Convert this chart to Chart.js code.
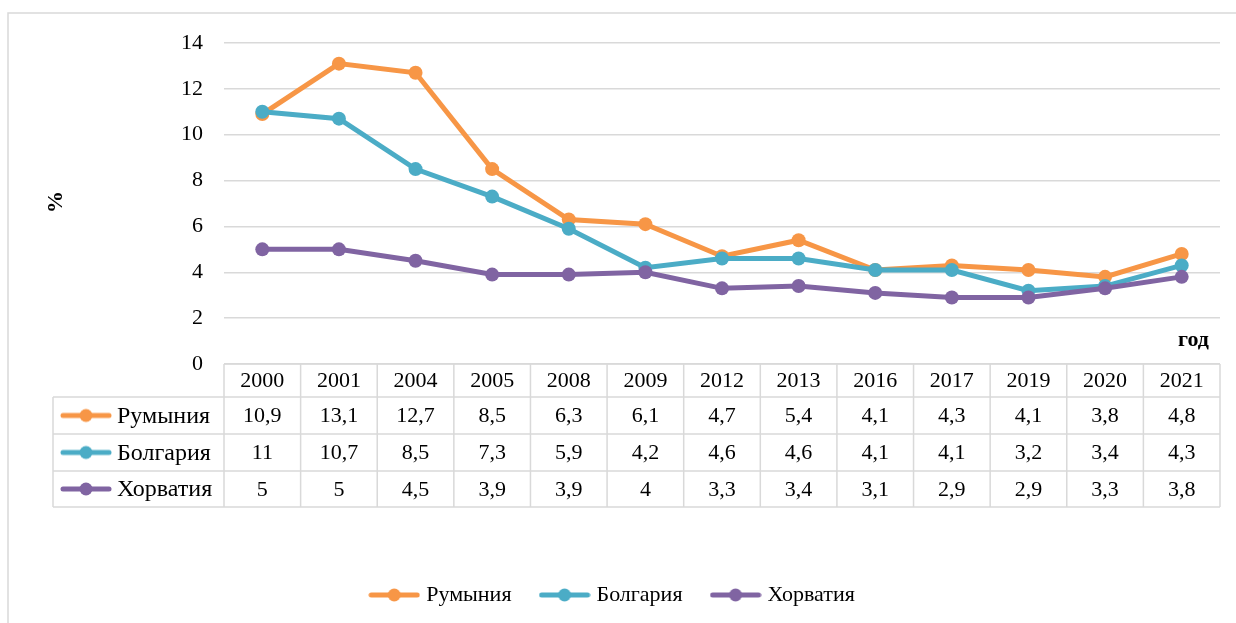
<!DOCTYPE html>
<html>
<head>
<meta charset="utf-8">
<script src="https://cdn.jsdelivr.net/npm/chart.js@4/dist/chart.umd.min.js"></script>
<style>
  html, body { margin: 0; padding: 0; background: #fff; }
  canvas { display: block; }
</style>
</head>
<body>
<canvas id="chart" width="1236" height="623"></canvas>
<script>
// данные
var years = ['2000', '2001', '2004', '2005', '2008', '2009', '2012', '2013', '2016', '2017', '2019', '2020', '2021'];
var romania = [10.9, 13.1, 12.7, 8.5, 6.3, 6.1, 4.7, 5.4, 4.1, 4.3, 4.1, 3.8, 4.8];
var bulgaria = [11, 10.7, 8.5, 7.3, 5.9, 4.2, 4.6, 4.6, 4.1, 4.1, 3.2, 3.4, 4.3];
var croatia = [5, 5, 4.5, 3.9, 3.9, 4, 3.3, 3.4, 3.1, 2.9, 2.9, 3.3, 3.8];
var yTicks = [0, 2, 4, 6, 8, 10, 12, 14];

var FONT = "'Liberation Serif', 'Times New Roman', serif";
var GRID = '#d9d9d9';

Chart.defaults.font.family = FONT;
Chart.defaults.font.size = 22;
Chart.defaults.color = '#000';

// значок легенды: линия с маркером
function makeSymbol(color) {
    var c = document.createElement('canvas');
    c.width = 52;
    c.height = 16;
    var g = c.getContext('2d');
    g.strokeStyle = color;
    g.lineWidth = 5;
    g.lineCap = 'round';
    g.beginPath();
    g.moveTo(3, 8);
    g.lineTo(49, 8);
    g.stroke();
    g.fillStyle = color;
    g.beginPath();
    g.arc(26, 8, 6.5, 0, Math.PI * 2);
    g.fill();
    return c;
}

function fmt(v) {
    return String(v).replace('.', ',');
}

var series = [
    { label: 'Румыния', data: romania, color: '#f79646' },
    { label: 'Болгария', data: bulgaria, color: '#4bacc6' },
    { label: 'Хорватия', data: croatia, color: '#8064a2' }
];
series.forEach(function (s) { s.symbol = makeSymbol(s.color); });

// таблица данных под осью
var tablePlugin = {
    id: 'dataTable',
    beforeDraw: function (chart) {
        var ctx = chart.ctx;
        ctx.save();
        ctx.fillStyle = '#fff';
        ctx.fillRect(0, 0, chart.width, chart.height);
        ctx.strokeStyle = GRID;
        ctx.lineWidth = 1.5;
        ctx.beginPath();
        ctx.moveTo(8, chart.height);
        ctx.lineTo(8, 13);
        ctx.lineTo(chart.width, 13);
        ctx.stroke();
        ctx.restore();
    },
    afterDraw: function (chart) {
        var ctx = chart.ctx;
        var area = chart.chartArea;
        var x = chart.scales.x;
        var colW = area.width / years.length;
        var top = area.bottom;
        var rows = [top, top + 33, top + 70, top + 107, top + 143];
        var labelLeft = 53;

        ctx.save();
        ctx.strokeStyle = GRID;
        ctx.lineWidth = 1.5;
        ctx.beginPath();
        ctx.moveTo(area.left, rows[0]);
        ctx.lineTo(area.right, rows[0]);
        for (var r = 1; r < rows.length; r++) {
            ctx.moveTo(labelLeft, rows[r]);
            ctx.lineTo(area.right, rows[r]);
        }
        ctx.moveTo(labelLeft, rows[1]);
        ctx.lineTo(labelLeft, rows[4]);
        for (var i = 0; i <= years.length; i++) {
            var bx = area.left + i * colW;
            ctx.moveTo(bx, rows[0]);
            ctx.lineTo(bx, rows[4]);
        }
        ctx.stroke();

        ctx.fillStyle = '#000';
        ctx.textBaseline = 'middle';
        years.forEach(function (y, i) {
            ctx.font = '22px ' + FONT;
            ctx.textAlign = 'center';
            ctx.fillText(y, x.getPixelForValue(i), (rows[0] + rows[1]) / 2 + 1);
        });
        series.forEach(function (s, k) {
            var cy = (rows[k + 1] + rows[k + 2]) / 2 + 1;
            ctx.font = '22px ' + FONT;
            ctx.textAlign = 'center';
            s.data.forEach(function (v, i) {
                ctx.fillText(fmt(v), x.getPixelForValue(i), cy);
            });
            ctx.drawImage(s.symbol, 60, cy - 9);
            ctx.font = '24px ' + FONT;
            ctx.textAlign = 'left';
            ctx.fillText(s.label, 117, cy);
        });

        // подписи осей
        ctx.font = 'bold 22px ' + FONT;
        ctx.textAlign = 'right';
        ctx.fillText('год', area.right - 11, 340);
        ctx.translate(56, 202);
        ctx.rotate(-Math.PI / 2);
        ctx.textAlign = 'center';
        ctx.fillText('%', 0, 0);
        ctx.restore();
    }
};

var ctx = document.getElementById('chart');

var chartGraph = new Chart(ctx, {
    type: 'line',
    data: {
        labels: years,
        datasets: series.map(function (s, k) {
            return {
                label: s.label,
                data: s.data,
                borderColor: s.color,
                backgroundColor: s.color,
                pointBackgroundColor: s.color,
                pointBorderColor: s.color,
                borderWidth: 5,
                pointRadius: 7,
                pointBorderWidth: 0,
                pointHoverRadius: 7,
                tension: 0,
                order: 3 - k
            };
        })
    },
    options: {
        responsive: false,
        animation: false,
        layout: { padding: { left: 8, right: 16, top: 43, bottom: 7 } },
        scales: {
            x: {
                offset: true,
                grid: { display: false },
                border: { display: false },
                ticks: { display: false },
                afterFit: function (s) { s.height = 188; }
            },
            y: {
                min: 0,
                max: 14,
                afterFit: function (s) { s.width = 216; },
                afterBuildTicks: function (s) {
                    s.ticks = yTicks.map(function (v) { return { value: v }; });
                },
                grid: { color: GRID, lineWidth: 1.5, drawTicks: false },
                border: { display: false },
                ticks: { padding: 21, color: '#000', font: { size: 22 } }
            }
        },
        plugins: {
            tooltip: { enabled: false },
            legend: {
                position: 'bottom',
                labels: {
                    usePointStyle: true,
                    pointStyleWidth: 42,
                    padding: 32,
                    color: '#000',
                    font: { size: 22 },
                    sort: function (a, b) { return a.datasetIndex - b.datasetIndex; },
                    generateLabels: function (chart) {
                        return series.map(function (s, k) {
                            return {
                                text: s.label,
                                datasetIndex: k,
                                pointStyle: s.symbol,
                                fillStyle: s.color,
                                strokeStyle: s.color,
                                lineWidth: 0,
                                hidden: false
                            };
                        });
                    }
                }
            }
        }
    },
    plugins: [tablePlugin]
});
</script>
</body>
</html>
